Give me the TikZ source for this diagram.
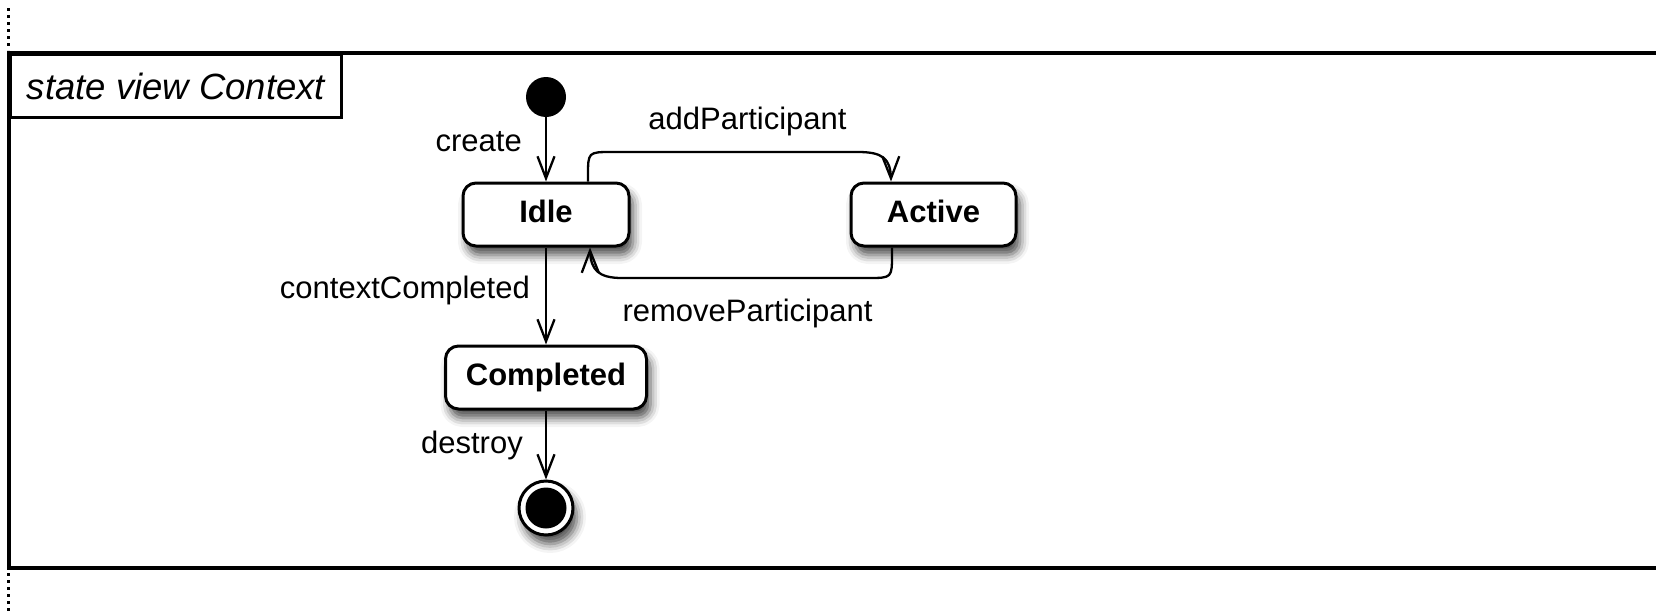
\documentclass[tikz,border=0pt]{standalone}
\usepackage{fontspec}
\setmainfont{Liberation Sans}
\usetikzlibrary{arrows.meta,bending,shadows.blur}
\begin{document}
\begin{tikzpicture}[x=1pt,y=-1pt,
  softshadow/.style={blur shadow={shadow xshift=4pt, shadow yshift=-9pt,
      shadow blur radius=9pt, shadow opacity=70}},
  state/.style={draw, line width=3pt, rounded corners=13pt, fill=white,
      font=\fontsize{31}{36}\selectfont\bfseries, minimum height=63pt,
      text height=16.5pt, text depth=0pt, inner sep=0pt, softshadow},
  trans/.style={line width=2.3pt, -{Straight Barb[length=22pt,width=17pt,flex]}},
  lbl/.style={font=\fontsize{31}{36}\selectfont, inner sep=0pt}]
\useasboundingbox (0,0) rectangle (1656,613);

% dotted guide above and below the frame
\draw[line width=3pt, dash pattern=on 3pt off 4pt] (8.5,8) -- (8.5,50);
\draw[line width=3pt, dash pattern=on 3pt off 4pt] (8.5,573) -- (8.5,613);

% frame
\draw[line width=3.2pt] (1660,53) -- (9,53) -- (9,568) -- (1660,568);
\node[draw, line width=3pt, anchor=north west, minimum width=331pt,
      minimum height=63pt, inner sep=0pt, text height=27pt, text depth=0pt,
      font=\fontsize{36.5}{42}\selectfont\itshape] (framelabel) at (9,53)
      {state view Context};

% states
\node[circle, fill=black, minimum size=40pt, inner sep=0pt] (init) at (546,97) {};
\node[state, minimum width=166pt] (idle) at (546,214.5) {Idle};
\node[state, minimum width=165pt] (active) at (933.5,214.5) {Active};
\node[state, minimum width=201pt] (completed) at (546,377.5) {Completed};
\node[circle, draw, line width=3pt, fill=white, minimum size=54pt,
      inner sep=0pt, softshadow] (final) at (546,508) {};
\node[circle, fill=black, minimum size=41pt, inner sep=0pt] (finalcore) at (final.center) {};

% transitions
\draw[trans] (init) -- (idle.north);
\draw[trans] ([xshift=42pt]idle.north) -- (588,176)
      .. controls (588,152) .. (612,152) -- (858,152)
      .. controls (885,152) and (891,160) .. ([xshift=-42.5pt]active.north);
\draw[trans] ([xshift=-41.5pt]active.south) -- (892,254)
      .. controls (892,278) .. (868,278) -- (622,278)
      .. controls (596,278) and (590,268) .. ([xshift=44pt]idle.south);
\draw[trans] (idle.south) -- (completed.north);
\draw[trans] (completed.south) -- (final);

% transition labels
\node[lbl, anchor=base east] (lcreate) at (522,151) {create};
\node[lbl, anchor=base] (ladd) at (747.5,129) {addParticipant};
\node[lbl, anchor=base] (lremove) at (747.5,321) {removeParticipant};
\node[lbl, anchor=base east] (lctx) at (530,298) {contextCompleted};
\node[lbl, anchor=base east] (ldestroy) at (523,453) {destroy};
\end{tikzpicture}
\end{document}
